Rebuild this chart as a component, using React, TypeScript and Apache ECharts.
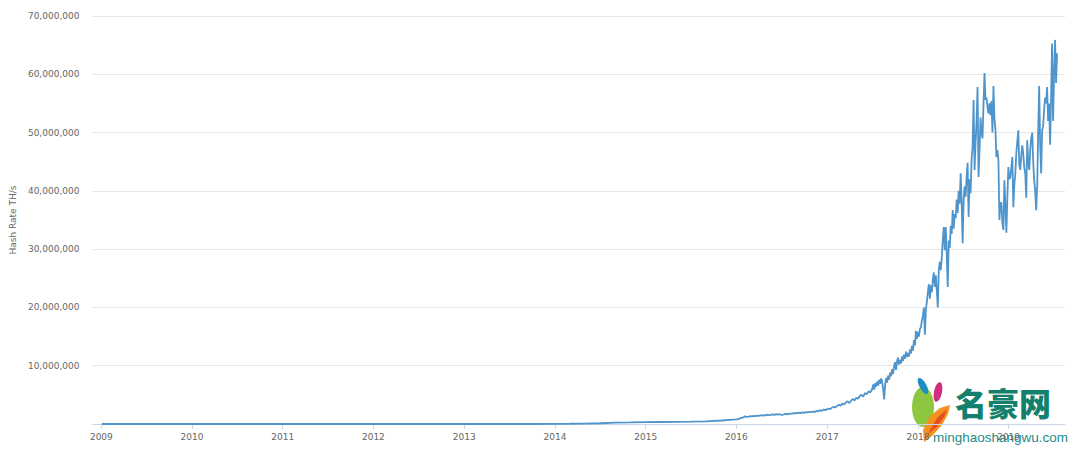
import React, { useEffect, useRef } from "react";
import * as echarts from "echarts";

// ---- Data (hash rate in TH/s) ----
const earlyDates: string[] = [
  "2009-01-03", "2009-07-01", "2010-01-01", "2010-07-01", "2011-01-01", "2011-07-01",
  "2012-01-01", "2012-07-01", "2013-01-01", "2013-04-01", "2013-07-01", "2013-10-01",
  "2014-01-01", "2014-03-01", "2014-05-01", "2014-07-01", "2014-09-01", "2014-11-01",
  "2015-01-01", "2015-03-01", "2015-05-01", "2015-07-01", "2015-09-01", "2015-11-01",
];
const earlyHashRate: number[] = [
  5e-6, 7e-6, 1e-5, 2e-4, 0.2, 12,
  9, 15, 25, 60, 250, 1500,
  12000, 40000, 80000, 130000, 250000, 280000,
  320000, 340000, 360000, 400000, 450000, 600000,
];

// weekly readings from 2016-01-01
const weeklyStart = "2016-01-01";
const weeklyStepDays = 7;
const weeklyHashRate: number[] = [
  0.8e6, 0.85e6, 0.95e6, 1.05e6, 1.15e6, 1.3e6, 1.22e6, 1.28e6, 1.35e6, 1.3e6,
  1.4e6, 1.36e6, 1.45e6, 1.38e6, 1.5e6, 1.44e6, 1.52e6, 1.48e6, 1.6e6, 1.52e6,
  1.58e6, 1.66e6, 1.55e6, 1.7e6, 1.62e6, 1.68e6, 1.55e6, 1.62e6, 1.72e6, 1.65e6,
  1.8e6, 1.72e6, 1.85e6, 1.78e6, 1.9e6, 1.82e6, 1.95e6, 1.88e6, 2.0e6, 1.92e6,
  2.05e6, 1.98e6, 2.1e6, 2.02e6, 2.15e6, 2.05e6, 2.25e6, 2.15e6, 2.35e6, 2.25e6,
  2.45e6, 2.38e6, 2.5e6, 2.65e6, 2.55e6, 2.8e6, 2.95e6, 2.85e6, 3.1e6, 3.3e6,
  3.15e6, 3.5e6, 3.35e6, 3.7e6, 3.9e6, 3.6e6, 4.0e6, 4.3e6, 4.05e6, 4.5e6,
  4.35e6, 4.8e6, 5.0e6, 4.7e6, 5.3e6, 5.1e6, 5.6e6, 5.4e6,
];

// readings every 4 days from 2017-07-01
const denseStart = "2017-07-01";
const denseStepDays = 4;
const denseHashRate: number[] = [
  6.0e6, 6.8e6, 5.9e6, 7.0e6, 6.4e6, 7.3e6, 6.6e6, 7.6e6, 6.9e6, 7.8e6,
  7.2e6, 6.0e6, 4.2e6, 6.8e6, 7.9e6, 7.1e6, 8.3e6, 7.6e6, 8.8e6, 8.2e6,
  9.4e6, 8.6e6, 9.9e6, 10.6e6, 9.3e6, 10.8e6, 11.4e6, 10.2e6, 11.0e6, 10.4e6,
  11.6e6, 10.8e6, 11.9e6, 11.2e6, 12.4e6, 11.5e6, 12.2e6, 11.6e6, 12.8e6, 12.1e6,
  13.4e6, 12.6e6, 14.4e6, 13.5e6, 16.0e6, 14.6e6, 15.8e6, 15.0e6, 16.3e6, 16.6e6,
  17.8e6, 18.5e6, 20.0e6, 15.3e6, 19.6e6, 21.0e6, 22.6e6, 24.0e6, 21.5e6, 23.8e6,
  22.6e6, 24.8e6, 26.0e6, 23.5e6, 25.5e6, 22.8e6, 20.0e6, 26.5e6, 27.8e6, 26.4e6,
  28.6e6, 31.5e6, 33.8e6, 29.8e6, 33.8e6, 29.0e6, 23.5e6, 31.5e6, 30.2e6, 34.0e6,
  32.6e6, 36.7e6, 33.5e6, 36.0e6, 35.3e6, 38.5e6, 36.2e6, 40.0e6, 37.8e6, 43.0e6,
  38.0e6, 31.0e6, 38.5e6, 40.8e6, 39.0e6, 42.5e6, 44.8e6, 35.5e6, 42.0e6, 39.6e6,
  45.5e6, 47.5e6, 55.6e6, 43.6e6, 48.2e6, 52.0e6, 57.8e6, 42.4e6, 47.0e6, 52.6e6,
  50.0e6, 49.0e6, 55.0e6, 60.2e6, 55.6e6, 56.0e6, 54.4e6, 53.3e6, 55.0e6, 53.0e6,
  55.4e6, 50.0e6, 58.0e6, 52.5e6, 50.5e6, 45.8e6, 47.0e6, 45.3e6, 35.0e6, 38.0e6,
  37.9e6, 34.5e6, 33.3e6, 41.8e6, 37.5e6, 32.8e6, 39.0e6, 44.1e6, 42.0e6, 42.4e6,
  44.0e6, 45.8e6, 37.2e6, 41.0e6, 43.0e6, 46.5e6, 48.5e6, 50.4e6, 44.5e6, 43.6e6,
  46.0e6, 47.8e6, 46.3e6, 44.0e6, 43.0e6, 38.8e6, 48.7e6, 45.0e6, 43.6e6, 47.0e6,
  49.0e6, 50.0e6, 45.0e6, 41.8e6, 40.0e6, 36.7e6, 40.8e6, 50.0e6, 58.0e6, 48.0e6,
  43.0e6, 50.4e6, 51.1e6, 54.0e6, 56.0e6, 55.0e6, 57.8e6, 52.0e6, 55.0e6, 47.9e6,
  56.0e6, 65.3e6, 52.0e6, 60.0e6, 65.9e6, 58.5e6, 63.6e6,
];

const yearTicks: number[] = [2009, 2010, 2011, 2012, 2013, 2014, 2015, 2016, 2017, 2018, 2019];
const xMinDate = "2008-11-26";
const xMaxDate = "2019-08-16";
const yTicksMax = 70000000;
const yTickStep = 10000000;

const DAY = 24 * 3600 * 1000;
function toTs(s: string): number {
  const [y, m, d] = s.split("-").map(Number);
  return Date.UTC(y, m - 1, d);
}

function buildData(): [number, number][] {
  const out: [number, number][] = [];
  earlyDates.forEach((d, i) => out.push([toTs(d), earlyHashRate[i]]));
  const ws = toTs(weeklyStart);
  weeklyHashRate.forEach((v, i) => out.push([ws + i * weeklyStepDays * DAY, v]));
  const ds = toTs(denseStart);
  denseHashRate.forEach((v, i) => out.push([ds + i * denseStepDays * DAY, v]));
  return out;
}

const FONT = "'DejaVu Sans', sans-serif";

export default function App() {
  const ref = useRef<HTMLDivElement>(null);
  useEffect(() => {
    if (!ref.current) return;
    document.body.style.margin = "0";
    const chart = echarts.init(ref.current, undefined, { renderer: "svg" });
    const yearTs = yearTicks.map((y) => Date.UTC(y, 0, 1));
    chart.setOption({
      animation: false,
      backgroundColor: "#ffffff",
      grid: { left: 85, right: 15, top: 16, bottom: 27, containLabel: false },
      xAxis: {
        type: "value",
        min: toTs(xMinDate),
        max: toTs(xMaxDate),
        axisLine: { show: true, lineStyle: { color: "#ccd6eb", width: 1 } },
        axisTick: {
          show: true,
          length: 5,
          lineStyle: { color: "#ccd6eb" },
          customValues: yearTs,
        },
        axisLabel: {
          customValues: yearTs,
          formatter: (v: number) => String(new Date(v).getUTCFullYear()),
          color: "#666666",
          fontSize: 9,
          fontFamily: FONT,
          margin: 8,
        },
        splitLine: { show: false },
      },
      yAxis: {
        type: "value",
        min: 0,
        max: yTicksMax,
        interval: yTickStep,
        name: "Hash Rate TH/s",
        nameLocation: "middle",
        nameRotate: 90,
        nameGap: 73,
        nameTextStyle: { color: "#666666", fontSize: 9, fontFamily: FONT },
        axisLine: { show: false },
        axisTick: { show: false },
        axisLabel: {
          color: "#666666",
          fontSize: 9,
          fontFamily: FONT,
          margin: 13,
          formatter: (v: number) => (v === 0 ? "" : v.toLocaleString("en-US")),
        },
        splitLine: { show: true, lineStyle: { color: "#e6e6e6", width: 1 } },
      },
      series: [
        {
          type: "line",
          data: buildData(),
          showSymbol: false,
          symbol: "none",
          lineStyle: { color: "#4f95cc", width: 1.8 },
          z: 3,
        },
      ],
      graphic: [
        {
          type: "group",
          z: 100,
          children: [
            {
              type: "rect",
              shape: { x: 899, y: 368, width: 181, height: 83 },
              style: { fill: "rgba(255,255,255,0.92)" },
            },
            {
              type: "ellipse",
              x: 923,
              y: 407,
              shape: { cx: 0, cy: 0, rx: 11, ry: 20 },
              style: { fill: "#8dc63f" },
            },
            {
              type: "ellipse",
              x: 923,
              y: 386,
              rotation: 0.5,
              shape: { cx: 0, cy: 0, rx: 3.5, ry: 9 },
              style: { fill: "#1f8fbf" },
            },
            {
              type: "ellipse",
              x: 938,
              y: 392,
              rotation: -0.2,
              shape: { cx: 0, cy: 0, rx: 4, ry: 10 },
              style: { fill: "#d42a7f" },
            },
            {
              type: "polygon",
              shape: {
                points: [
                  [950, 405], [940, 408], [930, 416], [923, 430], [924, 442],
                  [932, 436], [942, 425], [948, 414],
                ],
              },
              style: { fill: "#f39221" },
            },
            {
              type: "polygon",
              shape: {
                points: [
                  [947, 409], [937, 418], [928, 434], [937, 427], [944, 417],
                ],
              },
              style: { fill: "#e5501e" },
            },
            {
              type: "text",
              x: 955,
              y: 386,
              style: {
                text: "名豪网",
                fill: "#13806e",
                fontSize: 32,
                fontWeight: 900,
                fontFamily: "'Noto Sans CJK SC', sans-serif",
              },
            },
            {
              type: "text",
              x: 933,
              y: 430,
              style: {
                text: "minghaoshangwu.com",
                fill: "#1e8a8a",
                fontSize: 13.5,
                fontFamily: "'Liberation Sans', Arial, sans-serif",
              },
            },
          ],
        },
      ],
    });
    return () => chart.dispose();
  }, []);
  return (
    <div
      ref={ref}
      style={{ position: "fixed", left: 0, top: 0, width: 1080, height: 451 }}
    />
  );
}
